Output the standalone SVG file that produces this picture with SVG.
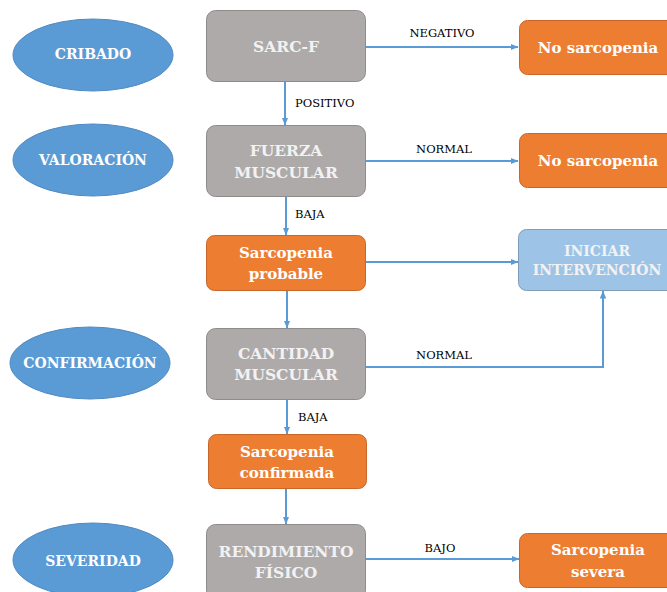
<svg xmlns="http://www.w3.org/2000/svg" width="667" height="592" viewBox="0 0 667 592">
<defs>
<marker id="ah" markerUnits="userSpaceOnUse" markerWidth="8" markerHeight="8" viewBox="0 0 8 8" refX="7.5" refY="4" orient="auto">
<path d="M0,0.8 L8,4 L0,7.2 Z" fill="#5B9BD5"/>
</marker>
</defs>
<style>
.ell{fill:#5B9BD5;stroke:#4F8AC2;stroke-width:1}
.gray{fill:#AEAAAA;stroke:#8E8B8B;stroke-width:1}
.orange{fill:#ED7D31;stroke:#C9672A;stroke-width:1}
.lblue{fill:#9DC3E6;stroke:#7F9DB9;stroke-width:1}
text{font-family:'DejaVu Serif','Liberation Serif',serif}
.et{font-weight:bold;font-size:14px;fill:#FFFFFF;text-anchor:middle}
.bt{font-weight:bold;font-size:15px;fill:#FFFFFF;text-anchor:middle}
.gt{font-size:15.5px;fill:#F2F2F2}
.it{font-size:14px;fill:#F2F2F2}
.lb{font-size:11.5px;fill:#000000}
.cn{fill:none;stroke:#5B9BD5;stroke-width:2;marker-end:url(#ah)}
</style>
<rect width="667" height="592" fill="#FFFFFF"/>
<g id="cribado"><ellipse class="ell" cx="93" cy="55" rx="80" ry="36"/><text class="et" x="93" y="58.5">CRIBADO</text></g>
<g id="valoracion"><ellipse class="ell" cx="93" cy="160" rx="80" ry="36"/><text class="et" x="93" y="164.5">VALORACIÓN</text></g>
<g id="confirmacion"><ellipse class="ell" cx="90" cy="363" rx="80" ry="36"/><text class="et" x="90" y="368">CONFIRMACIÓN</text></g>
<g id="severidad"><ellipse class="ell" cx="93" cy="560" rx="80" ry="37"/><text class="et" x="93" y="566">SEVERIDAD</text></g>

<g id="sarcf"><rect class="gray" x="206.5" y="10.5" width="159" height="71" rx="9"/><text class="bt gt" x="286" y="52">SARC-F</text></g>
<g id="fuerza"><rect class="gray" x="206.5" y="125.5" width="159" height="71" rx="9"/><text class="bt gt" x="286" y="156">FUERZA</text><text class="bt gt" x="286" y="178">MUSCULAR</text></g>
<g id="probable"><rect class="orange" x="206.5" y="235.5" width="159" height="55" rx="8"/><text class="bt" x="286" y="258">Sarcopenia</text><text class="bt" x="286" y="279">probable</text></g>
<g id="cantidad"><rect class="gray" x="206.5" y="328.5" width="159" height="71" rx="9"/><text class="bt gt" x="286" y="359">CANTIDAD</text><text class="bt gt" x="286" y="380">MUSCULAR</text></g>
<g id="confirmada"><rect class="orange" x="208.5" y="434.5" width="158" height="54" rx="8"/><text class="bt" x="287" y="457">Sarcopenia</text><text class="bt" x="287" y="478">confirmada</text></g>
<g id="rendimiento"><rect class="gray" x="206.5" y="524.5" width="159" height="75" rx="9"/><text class="bt gt" x="286" y="557">RENDIMIENTO</text><text class="bt gt" x="286" y="578">FÍSICO</text></g>
<g id="nosarc1"><rect class="orange" x="519.5" y="20.5" width="160" height="54" rx="8"/><text class="bt" x="598" y="52.5">No sarcopenia</text></g>
<g id="nosarc2"><rect class="orange" x="519.5" y="133.5" width="160" height="54" rx="8"/><text class="bt" x="598" y="165.5">No sarcopenia</text></g>
<g id="iniciar"><rect class="lblue" x="518.5" y="229.5" width="161" height="61" rx="8"/><text class="bt it" x="597" y="255.5">INICIAR</text><text class="bt it" x="597" y="274.5">INTERVENCIÓN</text></g>
<g id="severa"><rect class="orange" x="519.5" y="533.5" width="160" height="54" rx="8"/><text class="bt" x="598" y="555">Sarcopenia</text><text class="bt" x="598" y="577">severa</text></g>

<g id="connectors">
<path class="cn" d="M366,47 H518"/>
<path class="cn" d="M285,82 V125"/>
<path class="cn" d="M366,161 H518"/>
<path class="cn" d="M286,197 V235"/>
<path class="cn" d="M366,262 H518"/>
<path class="cn" d="M287,291 V328"/>
<path class="cn" d="M366,367 H603 V291"/>
<path class="cn" d="M287,400 V434"/>
<path class="cn" d="M286,489 V524"/>
<path class="cn" d="M366,559 H519"/>
<text class="lb" x="442" y="37" text-anchor="middle">NEGATIVO</text>
<text class="lb" x="295" y="107">POSITIVO</text>
<text class="lb" x="444" y="153" text-anchor="middle">NORMAL</text>
<text class="lb" x="295" y="218">BAJA</text>
<text class="lb" x="444" y="359" text-anchor="middle">NORMAL</text>
<text class="lb" x="298" y="421">BAJA</text>
<text class="lb" x="440" y="552" text-anchor="middle">BAJO</text>
</g>
</svg>
